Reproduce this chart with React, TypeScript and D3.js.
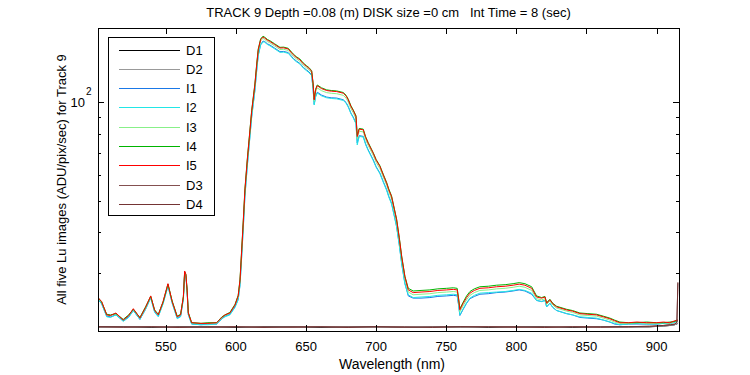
import React from "react";
import * as d3 from "d3";

const TITLE = "TRACK 9 Depth =0.08 (m) DISK size =0 cm   Int Time = 8 (sec)";
const X_LABEL = "Wavelength (nm)";
const Y_LABEL = "All five Lu images (ADU/pix/sec) for Track 9";
const X_TICKS = [550, 600, 650, 700, 750, 800, 850, 900];
const Y_MINOR_TICKS = [20, 30, 40, 50, 60, 70, 80, 90];
const Y_MAJOR_TICKS = [100];
const X_DOMAIN = [501.6, 916];
const Y_DOMAIN = [20, 168.4];

const WL = [
  501.6, 504.2, 507.8, 510.5, 514.4, 519.6, 523.5, 526.8, 531.5, 535.5,
  539.2, 542.0, 544.6, 548.0, 551.5, 554.5, 558.1, 560.5, 562.5, 563.4,
  564.3, 565.2, 566.0, 568.4, 575.0, 580.0, 586.2, 590.0, 592.2, 595.7,
  599.3, 601.6, 602.9, 604.1, 605.2, 606.4, 608.1, 609.5, 611.2, 613.5,
  614.8, 615.9, 617.6, 619.3, 620.5, 622.5, 624.2, 627.5, 631.4, 634.0,
  637.3, 640.9, 643.0, 645.6, 648.0, 650.4, 652.0, 654.0, 655.0, 655.8,
  656.8, 658.0, 661.0, 664.7, 668.0, 671.8, 676.5, 678.5, 680.1, 682.0,
  683.6, 685.6, 686.5, 687.9, 690.8, 692.5, 694.3, 697.9, 700.0, 702.7,
  705.0, 707.5, 709.0, 711.0, 713.0, 714.6, 716.5, 718.2, 720.5, 722.9,
  726.4, 732.0, 738.3, 744.0, 750.3, 755.0, 757.8, 758.8, 759.7, 762.1,
  764.5, 766.9, 770.0, 774.0, 780.0, 785.9, 792.0, 797.7, 802.0, 806.1,
  810.9, 814.4, 818.0, 820.4, 821.6, 823.9, 826.0, 828.7, 835.8, 840.0,
  845.3, 851.0, 857.2, 862.0, 866.7, 870.0, 873.8, 880.0, 886.0, 892.9,
  900.0, 905.0, 909.5, 913.1, 915.2,
];

const I5 = [
  25.3, 24.6, 22.4, 22.3, 22.7, 21.6, 22.3, 23.4, 21.9, 23.6,
  25.6, 23.1, 22.4, 24.6, 27.9, 24.6, 22.1, 22.4, 25.5, 30.5,
  29.8, 26.5, 22.7, 21.2, 21.1, 21.1, 21.2, 22.0, 22.4, 22.7,
  24.0, 25.6, 28.6, 35.3, 43.0, 53.9, 66.6, 77.6, 93.6, 112.9,
  130.0, 144.5, 155.1, 158.0, 157.0, 154.5, 153.2, 150.0, 146.3, 146.5,
  145.3, 139.5, 137.0, 134.7, 131.0, 128.5, 127.0, 124.1, 114.0, 101.6,
  109.0, 112.2, 110.0, 108.5, 108.0, 107.7, 106.5, 104.5, 101.6, 97.0,
  94.3, 90.4, 78.5, 82.7, 82.3, 78.0, 74.9, 69.8, 66.5, 63.6,
  60.0, 56.5, 54.0, 51.4, 47.0, 43.7, 38.4, 33.7, 29.3, 26.7,
  26.2, 26.3, 26.4, 26.6, 26.7, 26.8, 26.7, 25.0, 23.2, 24.3,
  25.3, 26.1, 26.6, 27.0, 27.1, 27.3, 27.4, 27.6, 27.8, 27.6,
  27.0, 25.4, 25.2, 25.4, 24.3, 24.9, 24.2, 23.7, 23.2, 23.0,
  22.6, 22.5, 22.4, 22.1, 21.8, 21.5, 21.2, 21.2, 21.3, 21.2,
  21.2, 21.3, 21.2, 21.5, 21.6,
];

const I4 = [
  25.3, 24.5, 22.5, 22.4, 22.6, 21.7, 22.4, 23.3, 22.0, 23.7,
  25.5, 23.2, 22.5, 24.5, 27.8, 24.7, 22.2, 22.5, 25.4, 30.3,
  29.7, 26.6, 22.8, 21.2, 21.1, 21.2, 21.2, 22.1, 22.4, 22.8,
  24.1, 25.7, 28.8, 35.6, 43.4, 54.3, 67.1, 78.1, 94.2, 113.6,
  130.8, 145.4, 156.0, 159.0, 157.8, 155.3, 154.0, 150.8, 147.0, 147.2,
  146.0, 140.2, 137.7, 135.4, 131.7, 129.1, 127.6, 124.7, 114.6, 102.1,
  109.5, 112.8, 110.6, 109.0, 108.5, 108.2, 107.0, 105.0, 102.1, 97.5,
  94.8, 90.9, 79.2, 83.1, 82.7, 78.4, 75.3, 70.1, 66.8, 63.9,
  60.3, 56.8, 54.3, 51.7, 47.2, 43.9, 38.6, 33.9, 29.4, 27.0,
  26.5, 26.6, 26.7, 26.9, 27.0, 27.1, 27.0, 25.2, 23.4, 24.5,
  25.6, 26.4, 26.9, 27.3, 27.4, 27.6, 27.7, 27.9, 28.1, 27.9,
  27.3, 25.6, 25.3, 25.5, 24.4, 25.0, 24.3, 23.8, 23.3, 23.1,
  22.7, 22.6, 22.5, 22.2, 21.9, 21.6, 21.3, 21.2, 21.2, 21.3,
  21.2, 21.2, 21.3, 21.4, 21.6,
];

const I3 = [
  25.2, 24.5, 22.4, 22.3, 22.6, 21.6, 22.3, 23.3, 21.9, 23.5,
  25.5, 23.1, 22.4, 24.5, 27.8, 24.6, 22.1, 22.4, 25.4, 30.3,
  29.7, 26.5, 22.7, 21.2, 21.1, 21.1, 21.2, 22.0, 22.3, 22.7,
  24.0, 25.5, 28.4, 35.0, 42.6, 53.4, 66.0, 76.9, 92.8, 111.9,
  128.8, 143.2, 153.7, 156.6, 155.4, 153.0, 151.7, 148.5, 144.8, 145.0,
  143.8, 138.1, 135.6, 133.4, 129.7, 127.2, 125.7, 122.9, 112.9, 100.6,
  107.4, 110.5, 108.4, 106.9, 106.4, 106.1, 104.9, 102.9, 100.1, 95.5,
  92.9, 89.0, 77.3, 81.5, 81.1, 76.8, 73.8, 68.8, 65.5, 62.6,
  59.1, 55.7, 53.2, 50.6, 46.3, 43.0, 37.8, 33.2, 28.9, 26.3,
  25.8, 25.9, 26.0, 26.2, 26.3, 26.4, 26.3, 24.6, 22.9, 23.9,
  24.9, 25.7, 26.2, 26.6, 26.7, 26.9, 27.0, 27.2, 27.4, 27.2,
  26.6, 25.1, 24.9, 25.1, 24.1, 24.7, 24.0, 23.5, 23.0, 22.8,
  22.4, 22.3, 22.2, 21.9, 21.6, 21.3, 21.1, 21.1, 21.2, 21.1,
  21.1, 21.2, 21.1, 21.4, 21.5,
];

const I2 = [
  24.9, 24.3, 22.1, 22.0, 22.4, 21.4, 22.0, 23.1, 21.7, 23.3,
  25.2, 22.8, 22.1, 24.2, 27.4, 24.3, 21.8, 22.1, 25.0, 29.9,
  29.3, 26.1, 22.4, 21.0, 20.9, 20.9, 21.0, 21.8, 22.1, 22.4,
  23.6, 24.9, 27.6, 33.8, 41.0, 51.5, 63.8, 74.4, 89.8, 108.3,
  124.7, 138.8, 149.2, 152.8, 152.3, 149.9, 148.6, 145.5, 141.9, 142.1,
  140.9, 135.3, 132.9, 130.7, 127.1, 124.6, 123.2, 120.4, 109.5, 98.0,
  103.6, 106.6, 104.5, 103.1, 102.6, 102.3, 101.2, 99.3, 96.5, 92.2,
  89.6, 85.9, 74.0, 78.6, 78.2, 74.1, 71.2, 66.3, 63.2, 60.4,
  57.0, 53.7, 51.3, 48.8, 44.7, 41.5, 36.5, 32.0, 27.8, 25.8,
  25.3, 25.4, 25.5, 25.7, 25.8, 25.9, 25.8, 24.1, 22.4, 23.4,
  24.4, 25.2, 25.7, 26.1, 26.2, 26.3, 26.4, 26.6, 26.8, 26.6,
  26.1, 24.8, 24.6, 24.8, 23.7, 24.3, 23.6, 23.1, 22.6, 22.4,
  22.1, 22.0, 21.9, 21.6, 21.3, 21.1, 20.9, 21.0, 21.1, 21.0,
  21.0, 21.1, 21.0, 21.3, 21.4,
];

const I1 = [
  25.0, 24.2, 22.2, 22.1, 22.4, 21.5, 22.1, 23.1, 21.7, 23.3,
  25.3, 22.9, 22.2, 24.3, 27.5, 24.4, 21.9, 22.2, 25.1, 30.0,
  29.4, 26.2, 22.5, 21.0, 20.9, 21.0, 21.0, 21.8, 22.2, 22.5,
  23.7, 25.0, 27.7, 34.0, 41.3, 51.8, 64.1, 74.8, 90.2, 108.8,
  125.3, 139.4, 150.0, 153.6, 153.1, 150.6, 149.4, 146.3, 142.6, 142.8,
  141.7, 136.0, 133.6, 131.3, 127.7, 125.3, 123.8, 121.0, 110.0, 98.5,
  104.1, 107.2, 105.1, 103.6, 103.1, 102.9, 101.7, 99.8, 97.0, 92.6,
  90.1, 86.3, 75.0, 79.0, 78.6, 74.5, 71.5, 66.7, 63.5, 60.7,
  57.3, 54.0, 51.6, 49.1, 44.9, 41.7, 36.7, 32.2, 28.0, 25.6,
  25.2, 25.2, 25.3, 25.5, 25.6, 25.7, 25.6, 24.0, 22.3, 23.3,
  24.3, 25.1, 25.5, 25.9, 26.0, 26.2, 26.3, 26.5, 26.7, 26.5,
  25.9, 24.8, 24.6, 24.8, 23.7, 24.3, 23.6, 23.1, 22.6, 22.4,
  22.0, 21.9, 21.8, 21.6, 21.3, 21.0, 20.9, 21.0, 21.0, 21.0,
  21.0, 21.1, 21.1, 21.3, 21.5,
];

const DWL = [
  501.6, 520, 540, 560, 580, 600, 620, 640, 660, 680, 700, 720, 740, 760,
  780, 800, 820, 840, 860, 880, 895, 905, 910, 913, 914.5, 915.2,
];
const D1 = [
  20.6, 20.6, 20.5, 20.6, 20.6, 20.5, 20.6, 20.6, 20.5, 20.6, 20.6, 20.5, 20.6, 20.6,
  20.5, 20.6, 20.6, 20.5, 20.6, 20.6, 20.6, 20.7, 20.8, 20.9, 21.0, 21.1,
];
const D2 = [
  20.5, 20.6, 20.6, 20.5, 20.6, 20.6, 20.5, 20.6, 20.6, 20.6, 20.5, 20.6, 20.6, 20.5,
  20.6, 20.6, 20.5, 20.6, 20.6, 20.5, 20.6, 20.7, 20.8, 20.9, 21.0, 21.2,
];
const D3 = [
  20.6, 20.5, 20.6, 20.6, 20.5, 20.6, 20.6, 20.5, 20.6, 20.6, 20.6, 20.5, 20.6, 20.6,
  20.6, 20.5, 20.6, 20.6, 20.5, 20.6, 20.6, 20.8, 20.9, 21.0, 21.2, 28.2,
];
const D4 = [
  20.6, 20.6, 20.6, 20.5, 20.6, 20.6, 20.5, 20.6, 20.6, 20.5, 20.6, 20.6, 20.5, 20.6,
  20.6, 20.6, 20.5, 20.6, 20.6, 20.6, 20.7, 20.8, 20.9, 21.0, 21.3, 28.0,
];

const SERIES = [
  { name: "D1", x: DWL, y: D1, color: "#000000" },
  { name: "D2", x: DWL, y: D2, color: "#999999" },
  { name: "I1", x: WL, y: I1, color: "#1a78e6" },
  { name: "I2", x: WL, y: I2, color: "#22e6e6" },
  { name: "I3", x: WL, y: I3, color: "#88f088" },
  { name: "I4", x: WL, y: I4, color: "#00b400" },
  { name: "I5", x: WL, y: I5, color: "#ff0000" },
  { name: "D3", x: DWL, y: D3, color: "#845050" },
  { name: "D4", x: DWL, y: D4, color: "#743434" },
];

const W = 750;
const H = 375;
const L = 98;
const R = 679;
const T = 28;
const B = 331;
const FONT = "'Liberation Sans', Arial, sans-serif";

export default function App() {
  const x = d3.scaleLinear().domain(X_DOMAIN).range([L, R]);
  const y = d3.scaleLog().domain(Y_DOMAIN).range([B, T]);
  const line = d3
    .line<[number, number]>()
    .x((d) => x(d[0]))
    .y((d) => y(d[1]));

  const legX = 108.5;
  const legY = 37.5;
  const legW = 106;
  const legH = 178;
  const rowH = 19.3;

  return (
    <svg
      width={W}
      height={H}
      style={{ position: "absolute", left: 0, top: 0, background: "#fff" }}
      fontFamily={FONT}
    >
      <rect x={0} y={0} width={W} height={H} fill="#fff" />
      <defs>
        <clipPath id="plotclip">
          <rect x={L} y={T} width={R - L} height={B - T} />
        </clipPath>
      </defs>
      <g clipPath="url(#plotclip)">
        {SERIES.map((s) => (
          <path
            key={s.name}
            d={line(s.x.map((v, i) => [v, s.y[i]] as [number, number])) || ""}
            fill="none"
            stroke={s.color}
            strokeWidth={1}
          />
        ))}
      </g>
      <rect x={L + 0.5} y={T + 0.5} width={R - L} height={B - T} fill="none" stroke="#000" strokeWidth={1} shapeRendering="crispEdges" />
      {X_TICKS.map((t) => (
        <g key={"x" + t}>
          <g shapeRendering="crispEdges">
            <line x1={Math.round(x(t)) + 0.5} x2={Math.round(x(t)) + 0.5} y1={B} y2={B - 6} stroke="#000" />
            <line x1={Math.round(x(t)) + 0.5} x2={Math.round(x(t)) + 0.5} y1={T} y2={T + 6} stroke="#000" />
          </g>
          <text x={x(t)} y={351} textAnchor="middle" fontSize={13}>
            {t}
          </text>
        </g>
      ))}
      {Y_MINOR_TICKS.map((t) => (
        <g key={"y" + t} shapeRendering="crispEdges">
          <line x1={L} x2={L + 3} y1={Math.round(y(t)) + 0.5} y2={Math.round(y(t)) + 0.5} stroke="#000" />
          <line x1={R} x2={R - 3} y1={Math.round(y(t)) + 0.5} y2={Math.round(y(t)) + 0.5} stroke="#000" />
        </g>
      ))}
      {Y_MAJOR_TICKS.map((t) => (
        <g key={"ym" + t}>
          <g shapeRendering="crispEdges">
            <line x1={L} x2={L + 6} y1={Math.round(y(t)) + 0.5} y2={Math.round(y(t)) + 0.5} stroke="#000" />
            <line x1={R} x2={R - 6} y1={Math.round(y(t)) + 0.5} y2={Math.round(y(t)) + 0.5} stroke="#000" />
          </g>
          <text x={85} y={y(t) + 5} textAnchor="end" fontSize={13}>
            10
          </text>
          <text x={86} y={y(t) - 7} fontSize={10}>
            2
          </text>
        </g>
      ))}
      <text x={(L + R) / 2} y={17} textAnchor="middle" fontSize={13} style={{ whiteSpace: "pre" }}>
        {TITLE}
      </text>
      <text x={392} y={369} textAnchor="middle" fontSize={14}>
        {X_LABEL}
      </text>
      <text
        transform={`translate(66, ${(T + B) / 2}) rotate(-90)`}
        textAnchor="middle"
        fontSize={13}
      >
        {Y_LABEL}
      </text>
      <rect x={legX} y={legY} width={legW} height={legH} fill="#fff" stroke="#000" strokeWidth={1} shapeRendering="crispEdges" />
      {SERIES.map((s, i) => {
        const cy = 49.5 + i * rowH;
        return (
          <g key={"leg" + s.name}>
            <line x1={119} x2={180} y1={Math.round(cy) + 0.5} y2={Math.round(cy) + 0.5} stroke={s.color} strokeWidth={1} shapeRendering="crispEdges" />
            <text x={186} y={cy + 5} fontSize={13}>
              {s.name}
            </text>
          </g>
        );
      })}
    </svg>
  );
}
